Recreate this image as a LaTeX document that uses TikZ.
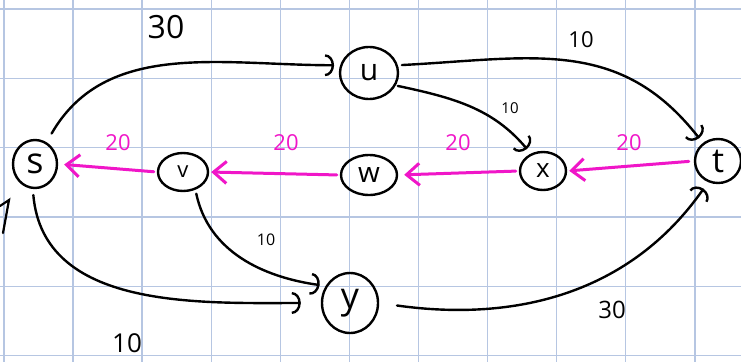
\documentclass[tikz,border=0pt]{standalone}
\usepackage{fontspec}
\setmainfont{Open Sans}
\usetikzlibrary{arrows.meta,shapes.geometric}
\definecolor{gridc}{RGB}{182,198,226}
\definecolor{mag}{RGB}{240,22,200}
\tikzset{
  vtx/.style={ellipse,draw=black,line width=2.4pt,inner sep=0pt},
  blk/.style={draw=black,line width=2.4pt,line cap=round,-{Arc Barb[width=22pt,length=9pt,line width=2.4pt]}},
  pink/.style={draw=mag,line width=3pt,line cap=round,-{Straight Barb[length=13pt,width=22pt,line width=3pt]}},
  wlab/.style={text=black,inner sep=0pt},
  plab/.style={text=mag,inner sep=0pt,font=\fontsize{22}{22}\selectfont},
}
\begin{document}
\begin{tikzpicture}[x=1pt,y=1pt]
\useasboundingbox (0,-362) rectangle (741,0);
\fill[white] (0,-362) rectangle (741,0);
% grid
\foreach \k in {0,...,10} {\draw[gridc,line width=1.3pt] ({3.9+69.1*\k},0) -- ({3.9+69.1*\k},-362);}
\foreach \k in {0,...,5} {\draw[gridc,line width=1.3pt] (0,{-9-69.3*\k}) -- (741,{-9-69.3*\k});}
% vertices
\node[vtx,minimum width=44pt,minimum height=48pt,font=\fontsize{36}{36}\selectfont] (s) at (35,-164) {s};
\node[vtx,minimum width=50pt,minimum height=38pt,font=\fontsize{22}{22}\selectfont] (v) at (183,-172) {v};
\node[vtx,minimum width=56pt,minimum height=40pt,font=\fontsize{28}{28}\selectfont] (w) at (369,-175) {w};
\node[vtx,minimum width=46pt,minimum height=38pt,font=\fontsize{26}{26}\selectfont] (x) at (543,-171) {x};
\node[vtx,minimum width=46pt,minimum height=44pt,font=\fontsize{34}{34}\selectfont] (t) at (718,-161) {t};
\node[vtx,minimum width=58pt,minimum height=52pt,font=\fontsize{30}{30}\selectfont] (u) at (369,-73) {u};
\node[vtx,minimum width=56pt,minimum height=60pt,font=\fontsize{36}{36}\selectfont] (y) at (350,-303) {y};
% black edges
\draw[blk,shorten <=10pt,shorten >=6pt] (s.62) to[out=60,in=180] (u.165);
\draw[blk,shorten <=4pt,shorten >=6pt] (u.15) to[out=3,in=128,looseness=1.1] (t.130);
\draw[blk,shorten <=2pt,shorten >=6pt] (u.-25) to[out=-12,in=130] (x.125);
\draw[blk,shorten <=6pt,shorten >=20pt] (s.-95) to[out=-85,in=180] (y.west);
\draw[blk,shorten <=4pt,shorten >=6pt] (v.-55) to[out=-78,in=172] (y.145);
\draw[blk,shorten <=18pt,shorten >=8pt] (y.east) to[out=-8,in=-125] (t.-115);
% magenta edges
\draw[pink,shorten <=5pt,shorten >=2pt] (t.west) -- (x.east);
\draw[pink,shorten <=3pt,shorten >=6pt] (x.west) -- (w.east);
\draw[pink,shorten <=3pt,shorten >=2pt] (w.west) -- (v.east);
\draw[pink,shorten <=3pt,shorten >=6pt] (v.west) -- (s.east);
% labels
\node[wlab,font=\fontsize{32}{32}\selectfont] (l1) at (166,-27) {30};
\node[wlab,font=\fontsize{22}{22}\selectfont] (l2) at (581,-40) {10};
\node[wlab,font=\fontsize{15}{15}\selectfont] (l3) at (510,-108) {10};
\node[wlab,font=\fontsize{16}{16}\selectfont] (l4) at (266,-240) {10};
\node[wlab,font=\fontsize{24}{24}\selectfont] (l5) at (612,-310) {30};
\node[wlab,font=\fontsize{26}{26}\selectfont] (l6) at (127,-343) {10};
\node[plab] (p1) at (118,-143) {20};
\node[plab] (p2) at (286,-143) {20};
\node[plab] (p3) at (458,-143) {20};
\node[plab] (p4) at (629,-143) {20};
% stray mark at left edge
\draw[black,line width=2.2pt,line cap=round] (0,-206) -- (9,-200) -- (3,-233);
\end{tikzpicture}
\end{document}
